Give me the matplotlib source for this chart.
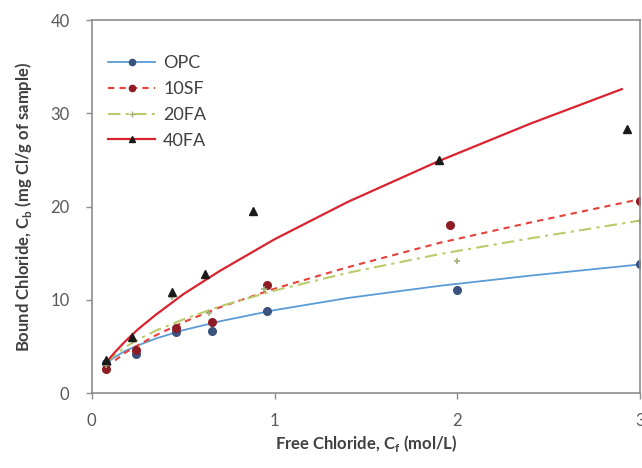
import matplotlib
matplotlib.use('Agg')
import matplotlib.pyplot as plt
from matplotlib.legend_handler import HandlerLine2D

# [START data]
# measured points
opc_x = [0.08, 0.24, 0.46, 0.66, 0.96, 2.0, 3.0]
opc_y = [3.2, 4.2, 6.6, 6.7, 8.8, 11.1, 13.8]

sf10_x = [0.08, 0.24, 0.46, 0.66, 0.96, 1.96, 3.0]
sf10_y = [2.6, 4.6, 7.0, 7.6, 11.6, 18.0, 20.6]

fa20_x = [0.08, 0.22, 0.44, 0.64, 0.94, 2.0, 3.0]
fa20_y = [3.0, 5.6, 10.3, 8.6, 11.2, 14.2, 18.5]

fa40_x = [0.08, 0.22, 0.44, 0.62, 0.88, 1.9, 2.93]
fa40_y = [3.5, 6.0, 10.8, 12.8, 19.5, 25.0, 28.3]

# fitted curves
fit_x = [0.08, 0.12, 0.18, 0.25, 0.35, 0.5, 0.7, 1.0, 1.4, 1.9, 2.4, 3.0]
opc_fit = [3.2, 3.8, 4.5, 5.1, 5.85, 6.75, 7.7, 8.9, 10.2, 11.5, 12.6, 13.8]
sf10_fit = [2.7, 3.4, 4.3, 5.1, 6.2, 7.6, 9.2, 11.2, 13.5, 16.1, 18.3, 20.8]
fa20_fit = [3.3, 4.0, 4.9, 5.7, 6.7, 7.9, 9.3, 11.0, 12.9, 14.9, 16.6, 18.5]
fa40_fit_x = [0.08, 0.12, 0.18, 0.25, 0.35, 0.5, 0.7, 1.0, 1.4, 1.9, 2.4, 2.9]
fa40_fit = [3.3, 4.25, 5.5, 6.8, 8.4, 10.6, 13.1, 16.5, 20.5, 24.9, 28.9, 32.6]

labels = ['OPC', '10SF', '20FA', '40FA']
# [END data]

plt.rcParams['font.family'] = ['Lato', 'DejaVu Sans']
plt.rcParams['mathtext.fontset'] = 'custom'
plt.rcParams['mathtext.bf'] = 'Lato:bold'
plt.rcParams['mathtext.rm'] = 'Lato:bold'


class RightMarker(HandlerLine2D):
    # Excel style legend: marker sits at the right end of the line sample
    def get_xdata(self, legend, xdescent, ydescent, width, height, fontsize):
        xd, _ = super().get_xdata(legend, xdescent, ydescent, width, height, fontsize)
        return xd, [xd[-1]]


fig = plt.figure(figsize=(6.42, 4.68), dpi=100)
ax = fig.add_axes([0.143, 0.160, 0.854, 0.797])

ax.plot(fit_x, opc_fit, color='#5b9bd5', lw=1.3)
ax.plot(fit_x, sf10_fit, color='#e8413c', lw=1.5, ls=(0, (3, 2.5)))
ax.plot(fit_x, fa20_fit, color='#b9cc6c', lw=1.5, ls=(0, (6, 2.5, 1.5, 2.5)))
ax.plot(fa40_fit_x, fa40_fit, color='#d9232e', lw=1.6)

ax.plot(opc_x, opc_y, 'o', color='#3a527e', ms=5.5, ls='none')
ax.plot(sf10_x, sf10_y, 'o', color='#8e1c24', ms=5.5, ls='none')
ax.plot(fa20_x, fa20_y, '+', color='#a3b07a', ms=5, mew=1.2, ls='none')
ax.plot(fa40_x, fa40_y, '^', color='#1a1a1a', ms=6, ls='none')

# legend handles combining line and marker
h_opc, = ax.plot([], [], color='#5b9bd5', lw=1.3, marker='o', mfc='#3a527e', mec='#3a527e', ms=4.5)
h_sf, = ax.plot([], [], color='#e8413c', lw=1.5, ls=(0, (3, 2.5)), marker='o', mfc='#8e1c24', mec='#8e1c24', ms=4.5)
h_fa20, = ax.plot([], [], color='#b9cc6c', lw=1.5, ls=(0, (6, 2.5, 1.5, 2.5)), marker='+', mec='#a3b07a', ms=5)
h_fa40, = ax.plot([], [], color='#d9232e', lw=1.6, marker='^', mfc='#1a1a1a', mec='#1a1a1a', ms=5)

leg = ax.legend([h_opc, h_sf, h_fa20, h_fa40], labels, loc='upper left',
                bbox_to_anchor=(0.0, 0.95), frameon=False, fontsize=13,
                handlelength=2.6, handletextpad=0.45, labelspacing=0.55,
                handler_map={h: RightMarker() for h in [h_opc, h_sf, h_fa20, h_fa40]})
for t in leg.get_texts():
    t.set_color('#404040')

ax.set_xlim(0, 3)
ax.set_ylim(0, 40)
ax.set_xticks([0, 1, 2, 3])
ax.set_yticks([0, 10, 20, 30, 40])

for s in ax.spines.values():
    s.set_color('#8c8c8c')
    s.set_linewidth(1.2)
ax.tick_params(axis='both', colors='#8c8c8c', labelcolor='#595959', labelsize=12,
               length=4, width=1, pad=12)
ax.tick_params(axis='x', pad=10)

ax.set_xlabel(r'Free Chloride, C$_\mathbf{f}$ (mol/L)', fontsize=12, fontweight='bold',
              color='#404040', labelpad=3)
ax.set_ylabel(r'Bound Chloride, C$_\mathbf{b}$ (mg Cl/g of sample)', fontsize=12,
              fontweight='bold', color='#404040', labelpad=12)

fig.savefig('out.png', dpi=100)
